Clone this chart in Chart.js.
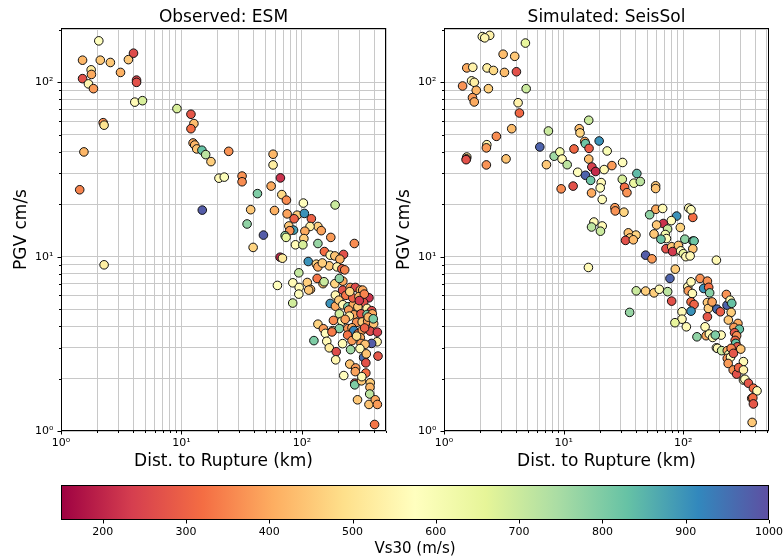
<!DOCTYPE html>
<html><head><meta charset="utf-8">
<script src="https://cdn.jsdelivr.net/npm/chart.js@4"></script>
<style>
html,body{margin:0;padding:0;background:#fff;width:783px;height:558px;overflow:hidden;position:relative}
canvas{position:absolute}
</style></head><body>
<canvas id="obs" width="392" height="480" style="left:0;top:0;width:392px;height:480px"></canvas>
<canvas id="sim" width="400" height="480" style="left:383px;top:0;width:400px;height:480px"></canvas>
<canvas id="cbar" width="783" height="88" style="left:0;top:470px;width:783px;height:88px"></canvas>
<script>
// ---------- DATA ----------
const obsDist = [2.06,1.51,2.12,2.57,3.63,4.0,1.78,1.79,3.12,1.51,1.69,1.86,4.24,4.24,4.10,4.75,2.24,2.28,1.55,1.43,2.28,
 9.18,12.0,12.7,12.0,12.5,12.9,13.4,14.8,15.9,17.6,24.7,20.5,22.7,31.9,31.9,14.9,37.6,42.8,35.1,48.0,39.4,
 57.7,57.7,66.4,55.6,68.2,74.5,59.3,103,189,75.5,91.4,105,86.3,120,78,136,117,145,106,85.3,79.4,72.6,74,104,174,273,136,88.5,102,154,
 66,69,113,172,188,222,207,132,136,169,148,196,215,227,94.4,62.7,84.2,95,94.4,84,111,118,134,114,150,153,188,219,190,205,218,252,278,306,320,361,326,
 172,190,203,219,241,267,292,348,380,245,270,248,310,348,385,205,183,215,229,285,317,352,395,136,151,157,180,205,241,261,270,292,318,370,424,422,380,
 178,240,261,306,310,335,126,161,218,169,254,304,193,191,326,340,429,343,250,280,278,340,223,275,275,313,315,370,368,366,290,361,407,424,402,
 232,265,298,330,356,285,332,392,250,300];
const obsPGV = [173,134,134,130,135,147,118,111,114,105,98,92,103,100,77,78.5,58.7,56.8,39.9,24.2,8.98,
 70.7,65.6,58,54.2,44.9,43.7,41.5,40.8,38.5,35.1,40.2,28.2,28.6,29.0,26.9,18.5,18.6,23.0,15.4,13.3,11.3,
 38.7,33.6,28.3,25.4,22.7,21.1,18.4,20.3,19.8,17.6,17.3,17.7,16.5,16.5,15.0,14.9,14.9,14.1,14.0,14.2,14.1,13.2,12.9,12.7,12.9,11.9,11.9,11.7,11.7,10.7,
 9.93,9.8,9.38,10.2,10.1,10.3,9.68,9.06,8.74,8.86,9.2,8.74,8.52,8.4,8.08,6.84,7.08,6.66,6.1,5.42,7.11,6.49,7.5,6.43,7.0,7.18,7.0,7.24,6.02,7.5,6.43,6.66,6.66,6.43,6.43,5.81,5.46,
 5.39,5.2,5.63,5.3,5.16,5.3,5.16,5.05,4.9,4.94,4.64,4.56,4.7,4.66,4.7,4.7,4.31,4.26,4.37,4.2,4.22,4.27,4.12,4.1,3.86,3.63,3.76,3.87,3.87,3.91,3.77,3.61,3.79,3.74,3.69,3.25,3.18,
 3.7,3.55,3.3,3.43,3.18,3.14,3.3,3.27,3.17,3.0,2.93,2.97,2.85,2.56,2.64,2.46,2.69,2.77,2.42,2.30,2.19,2.15,2.08,1.88,1.84,1.94,2.05,1.89,1.78,1.63,1.51,1.42,1.51,1.42,1.09,
 6.0,5.8,5.9,6.1,4.5,3.5,3.9,4.4,6.3,5.6];
const obsVs30 = [580,420,450,450,450,260,520,400,410,270,550,380,250,270,560,680,360,500,420,350,530,
 680,280,430,320,400,420,440,830,720,460,370,560,590,370,360,980,450,800,780,980,470,
 420,530,220,400,480,360,410,570,700,390,460,900,300,300,450,460,530,390,400,880,370,780,650,460,380,360,770,560,680,320,
 200,520,900,560,440,270,410,470,400,450,460,540,300,350,710,580,560,560,570,690,460,420,330,450,440,700,470,400,550,780,270,380,260,410,400,220,270,
 900,400,460,560,800,400,450,540,260,380,390,520,280,810,400,690,360,560,390,370,460,380,440,470,380,570,540,790,370,400,920,330,390,260,240,540,980,
 340,330,380,400,380,440,800,560,560,520,760,560,260,550,960,270,280,440,440,380,390,320,570,280,800,450,560,460,420,720,450,440,400,380,330,
 330,300,420,350,420,500,300,800,470,230];

const simDist = [2.09,2.41,2.19,4.79,3.12,3.9,1.55,1.74,2.29,2.59,3.2,4.03,1.70,1.79,1.43,1.86,2.35,4.86,1.73,1.79,4.16,4.27,
 16.2,7.46,3.68,2.74,13.5,13.7,19.8,15.0,15.2,16.3,12.2,23.1,2.28,2.26,6.32,1.55,1.54,1.53,3.3,2.26,8.33,9.29,9.7,7.18,10.7,16.2,
 17.2,18.5,13.1,15.2,16.8,21.8,25.3,31.1,20.6,20.2,12.0,9.53,17.1,21.0,30.9,32.3,33.8,38.6,43.7,40.9,58.7,58.7,26.8,27,31.9,52.3,59.0,67.2,87.9,79.4,68,59.8,
 17.9,17.1,21,20.3,94.4,73.9,56.9,70.7,72.3,34.7,40.2,35.8,32.9,38.2,65,103,120,123,120,120,111,116,71.6,79.9,86.9,81.3,90.9,95,100,105,114,48.4,54.7,189,16.1,85.7,77.3,
 40.4,48.4,56.9,63,74,79.9,35.6,109,110,116,119,138,159,148,163,166,116,123,116,97.5,97.5,85.1,106,159,162,159,174,191,204,229,232,246,254,251,238,286,265,294,268,279,271,274,283,302,318,
 152,155,165,176,207,185,130,189,193,209,233,240,251,233,248,262,237,261,279,290,318,318,327,350,385,413,373,381,385,376];
const simPGV = [183,186,180,168,145,141,121,122,121,117,114,115,102,100,95.3,90,92,92,81.7,77.2,76.4,66.7,
 60.6,52.6,54.2,49.0,54.2,51.3,46.1,45.8,44.5,41.8,41.5,40.4,43.9,42.1,42.6,37.3,36.4,36.0,36.4,33.6,37.7,39.9,36.3,33.7,33.7,36.3,
 32.7,30.8,30.5,29.3,27.4,31.6,33.3,34.7,26.6,24.8,25.4,24.5,23.2,21.3,27.8,25,23.3,26.4,27,30,25.5,24.6,19.1,18.3,18,17.4,18.7,18.9,17.1,16.1,15.5,15.2,
 15.8,14.8,15,14,14.7,14.4,13.5,13.4,12.7,13.7,13.3,12.8,12.4,12.5,12.6,12.6,12.3,12.3,11.1,16.8,19,18.6,11.1,11.4,10.8,10.7,11.6,10.8,10.4,10.0,10.1,10.2,9.72,9.55,8.67,8.48,7.5,
 6.37,6.35,6.2,6.5,6.3,5.56,4.79,6.72,6.37,7.17,6.15,7.5,7.24,6.57,6.67,6.2,5.51,5.32,4.87,4.83,4.38,4.18,3.96,5.46,5.05,4.52,5.5,5.0,4.83,6.07,5.27,5.63,5.4,4.79,4.33,4.14,3.93,3.84,3.66,3.52,3.31,3.18,3.04,2.95,2.50,
 3.96,3.52,3.6,3.44,3.55,3.55,3.47,3.0,2.98,2.89,2.89,2.75,2.98,2.61,2.65,2.79,2.44,2.24,2.12,2.31,2.24,1.96,1.98,1.88,1.76,1.70,1.54,1.55,1.43,1.12];
const simVs30 = [560,540,550,650,430,450,400,540,530,480,430,270,560,530,370,420,460,700,380,400,540,310,
 700,700,430,360,430,470,900,400,820,290,310,600,540,380,970,520,280,270,440,370,760,620,560,450,720,430,
 240,210,580,970,820,560,380,570,560,580,270,360,400,570,680,320,370,640,720,840,450,440,380,370,470,780,400,560,900,570,220,450,
 560,720,560,700,470,700,450,620,570,440,470,450,270,430,820,780,800,820,440,320,560,570,270,450,560,230,440,580,640,560,560,980,380,560,560,460,970,
 700,460,460,560,720,270,770,560,380,560,560,370,370,900,320,790,320,300,900,560,560,650,560,450,460,280,390,960,290,370,970,560,830,460,450,400,380,830,280,360,310,830,280,440,560,
 560,400,560,560,560,800,780,560,560,700,400,600,350,370,560,280,380,370,270,300,540,560,570,280,320,560,360,320,280,450];

const yTicks = [1,2,3,4,5,6,7,8,9,10,20,30,40,50,60,70,80,90,100,200];
const xTicksObs = [1,2,3,4,5,6,7,8,9,10,20,30,40,50,60,70,80,90,100,200,300,400,500];
const xTicksSim = [1,2,3,4,5,6,7,8,9,10,20,30,40,50,60,70,80,90,100,200,300,400,500];
const cbarTicks = [200,300,400,500,600,700,800,900,1000];
const spectral = ['#9e0142','#d53e4f','#f46d43','#fdae61','#fee08b','#ffffbf','#e6f598','#abdda4','#66c2a5','#3288bd','#5e4fa2'];
const vsMin = 150, vsMax = 1000;
const yMin = 1, yMax = 205, xMin = 1, xMaxObs = 500, xMaxSim = 520;

// ---------- HELPERS ----------
const F = '"DejaVu Sans", sans-serif';
const rgbStops = spectral.map(h => [parseInt(h.slice(1,3),16), parseInt(h.slice(3,5),16), parseInt(h.slice(5,7),16)]);
function vsColor(v){
  let t = (v - vsMin) / (vsMax - vsMin); t = Math.max(0, Math.min(1, t));
  const s = t * (rgbStops.length - 1); const i = Math.min(rgbStops.length - 2, Math.floor(s)); const f = s - i;
  const a = rgbStops[i], b = rgbStops[i+1];
  return 'rgb(' + [0,1,2].map(k => Math.round(a[k] + (b[k]-a[k])*f)).join(',') + ')';
}
const sup = {'0':'\u2070','1':'\u00b9','2':'\u00b2','3':'\u00b3'};
function isPow10(v){ const e = Math.log10(v); return Math.abs(e - Math.round(e)) < 1e-9; }
function logLabel(v){ return isPow10(v) ? '10' + sup[String(Math.round(Math.log10(v)))] : ''; }

const framePlugin = {
  id: 'frame',
  afterDraw(chart){
    const {ctx, chartArea: {left, top, right, bottom}, scales: {x, y}} = chart;
    ctx.save();
    ctx.strokeStyle = '#000'; ctx.lineWidth = 1;
    ctx.strokeRect(left + 0.5, top + 0.5, right - left - 1, bottom - top - 1);
    ctx.beginPath();
    x.ticks.forEach(t => { const p = Math.round(x.getPixelForValue(t.value)) + 0.5; const L = isPow10(t.value) ? 3.5 : 2;
      ctx.moveTo(p, bottom); ctx.lineTo(p, bottom + L); });
    y.ticks.forEach(t => { const p = Math.round(y.getPixelForValue(t.value)) + 0.5; const L = isPow10(t.value) ? 3.5 : 2;
      ctx.moveTo(left, p); ctx.lineTo(left - L, p); });
    ctx.stroke();
    const title = chart.options.plugins.panelTitle.text;
    ctx.fillStyle = '#000'; ctx.font = '17px ' + F; ctx.textAlign = 'center'; ctx.textBaseline = 'alphabetic';
    ctx.fillText(title, (left + right) / 2, 21.5);
    ctx.restore();
  }
};

function makePanel(id, title, dist, pgv, vs, xMax, xTicks, padRight){
  return new Chart(document.getElementById(id), {
    type: 'scatter',
    data: { datasets: [{
      data: dist.map((d, i) => ({x: d, y: pgv[i]})),
      pointBackgroundColor: vs.map(vsColor),
      pointBorderColor: '#111', pointBorderWidth: 1,
      pointRadius: 4.3, pointHoverRadius: 4.3
    }]},
    options: {
      responsive: false, animation: false, events: [],
      layout: { padding: { left: 0, top: 28, right: padRight, bottom: 0 } },
      plugins: { legend: {display: false}, tooltip: {enabled: false}, title: {display: false}, panelTitle: {text: title} },
      scales: {
        x: {
          type: 'logarithmic', min: xMin, max: xMax, position: 'bottom', z: 1,
          afterBuildTicks: s => { s.ticks = xTicks.map(v => ({value: v})); },
          afterFit: s => { s.height = 49; s.paddingLeft = 0; s.paddingRight = 0; },
          grid: { color: '#c8c8c8', lineWidth: 1, drawTicks: false },
          border: { display: false },
          ticks: { autoSkip: false, maxRotation: 0, minRotation: 0, padding: 6, color: '#000', font: {family: F, size: 11}, callback: v => logLabel(v) },
          title: { display: true, text: 'Dist. to Rupture (km)', color: '#000', font: {family: F, size: 17}, padding: {top: 0, bottom: 7.8} }
        },
        y: {
          type: 'logarithmic', min: yMin, max: yMax, position: 'left', z: 1,
          afterBuildTicks: s => { s.ticks = yTicks.map(v => ({value: v})); },
          afterFit: s => { s.width = 61; s.paddingTop = 0; s.paddingBottom = 0; },
          grid: { color: '#c8c8c8', lineWidth: 1, drawTicks: false },
          border: { display: false },
          ticks: { autoSkip: false, padding: 7.5, color: '#000', font: {family: F, size: 11}, callback: v => logLabel(v) },
          title: { display: true, text: 'PGV cm/s', color: '#000', font: {family: F, size: 17}, padding: {top: 11.5, bottom: 0} }
        }
      }
    },
    plugins: [framePlugin]
  });
}

makePanel('obs', 'Observed: ESM', obsDist, obsPGV, obsVs30, xMaxObs, xTicksObs, 6);
makePanel('sim', 'Simulated: SeisSol', simDist, simPGV, simVs30, xMaxSim, xTicksSim, 14);

const cbarPlugin = {
  id: 'cbar',
  beforeDatasetsDraw(chart){
    const {ctx, chartArea: {left, top, right, bottom}, scales: {x}} = chart;
    ctx.save();
    const g = ctx.createLinearGradient(left, 0, right, 0);
    spectral.forEach((c, i) => g.addColorStop(i / (spectral.length - 1), c));
    ctx.fillStyle = g; ctx.fillRect(left, top, right - left, bottom - top);
    ctx.strokeStyle = '#000'; ctx.lineWidth = 1;
    ctx.strokeRect(left + 0.5, top + 0.5, right - left - 1, bottom - top - 1);
    ctx.beginPath();
    cbarTicks.forEach(v => { const p = Math.round(x.getPixelForValue(v)) + 0.5; ctx.moveTo(p, bottom); ctx.lineTo(p, bottom + 3.5); });
    ctx.stroke();
    ctx.restore();
  }
};

new Chart(document.getElementById('cbar'), {
  type: 'scatter',
  data: { datasets: [{ data: [] }] },
  options: {
    responsive: false, animation: false, events: [],
    layout: { padding: { left: 61, top: 15, right: 14, bottom: 0 } },
    plugins: { legend: {display: false}, tooltip: {enabled: false} },
    scales: {
      x: {
        type: 'linear', min: vsMin, max: vsMax, position: 'bottom',
        afterBuildTicks: s => { s.ticks = cbarTicks.map(v => ({value: v})); },
        afterFit: s => { s.height = 38; s.paddingLeft = 0; s.paddingRight = 0; },
        grid: { display: false, drawTicks: false },
        border: { display: false },
        ticks: { autoSkip: false, maxRotation: 0, padding: 5.4, color: '#000', font: {family: F, size: 11}, callback: v => String(v) },
        title: { display: true, text: 'Vs30 (m/s)', color: '#000', font: {family: F, size: 15}, padding: {top: 0, bottom: 0} }
      },
      y: { display: false, min: 0, max: 1 }
    }
  },
  plugins: [cbarPlugin]
});
</script>
</body></html>
